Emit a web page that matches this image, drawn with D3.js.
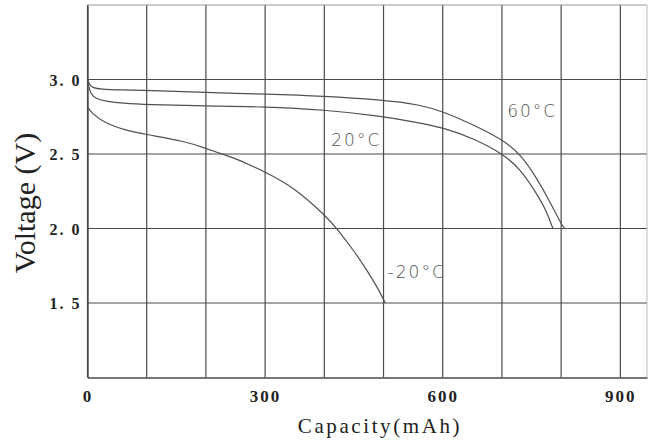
<!DOCTYPE html>
<html>
<head>
<meta charset="utf-8">
<script src="https://cdn.jsdelivr.net/npm/d3@7"></script>
<style>
    body { margin: 0; background: #fff; }
</style>
</head>
<body>
<div id="chart"></div>
<script>
//discharge curves (capacity in mAh, voltage in V)
var cap60 = [0, 4, 10, 20, 60, 100, 200, 300, 400, 494, 562, 603, 652, 702, 731, 759, 781, 801, 806];
var volt60 = [3.0, 2.96, 2.945, 2.935, 2.93, 2.927, 2.913, 2.902, 2.888, 2.864, 2.832, 2.781, 2.695, 2.594, 2.5, 2.337, 2.18, 2.023, 2.0];

var cap20 = [0, 5, 15, 30, 60, 100, 200, 300, 400, 494, 551, 603, 652, 702, 731, 759, 776, 786];
var volt20 = [2.99, 2.9, 2.87, 2.855, 2.84, 2.831, 2.822, 2.818, 2.797, 2.755, 2.716, 2.676, 2.604, 2.5, 2.4, 2.233, 2.111, 2.0];

var capM20 = [0, 7, 30, 63, 97, 165, 198, 225, 254, 274, 297, 348, 404, 421, 449, 472, 489, 503];
var voltM20 = [2.817, 2.773, 2.706, 2.661, 2.632, 2.585, 2.54, 2.503, 2.464, 2.426, 2.385, 2.28, 2.079, 2.0, 1.856, 1.72, 1.61, 1.5];

//curve labels
var curveLabels = ["60°C", "20°C", "-20°C"];
var labelCap = [751, 454, 556];
var labelVolt = [2.75, 2.554, 1.666];

//tick values and labels
var xGrid = [0, 100, 200, 300, 400, 500, 600, 700, 800, 900];
var xTicks = [0, 300, 600, 900];
var yGrid = [1.5, 2.0, 2.5, 3.0];
var yTickText = ["1. 5", "2. 0", "2. 5", "3. 0"];

//svg size
var svgWidth = 648;
var svgHeight = 443;

var svg = d3.select("#chart").append("svg")
    .attr("width", svgWidth)
    .attr("height", svgHeight);

svg.append("rect")
    .attr("width", svgWidth)
    .attr("height", svgHeight)
    .attr("fill", "#fff");

//scales
var xScale = d3.scaleLinear().domain([0, 945]).range([87.5, 647]);
var yScale = d3.scaleLinear().domain([1.0, 3.5]).range([377.5, 5]);

var gridColor = "#4a4a4a";

//vertical grid lines
svg.append("g").selectAll("line")
    .data(xGrid)
    .enter()
    .append("line")
    .attr("x1", d => xScale(d))
    .attr("x2", d => xScale(d))
    .attr("y1", yScale(3.5))
    .attr("y2", yScale(1.0))
    .attr("stroke", gridColor)
    .attr("stroke-width", 1.2);

//horizontal grid lines
svg.append("g").selectAll("line")
    .data(yGrid.concat([3.5]))
    .enter()
    .append("line")
    .attr("x1", xScale(0))
    .attr("x2", xScale(945))
    .attr("y1", d => yScale(d))
    .attr("y2", d => yScale(d))
    .attr("stroke", d => d == 3.5 ? "#999" : gridColor)
    .attr("stroke-width", 1.2);

//right border
svg.append("line")
    .attr("x1", xScale(945)).attr("x2", xScale(945))
    .attr("y1", yScale(3.5)).attr("y2", yScale(1.0))
    .attr("stroke", "#bbb")
    .attr("stroke-width", 1);

//axes
var xAxis = svg.append("g")
    .attr("transform", `translate(0, ${yScale(1.0)})`)
    .call(d3.axisBottom(xScale).tickValues(xTicks).tickSize(0).tickPadding(12));

var yAxis = svg.append("g")
    .attr("transform", `translate(${xScale(0)}, 0)`)
    .call(d3.axisLeft(yScale).tickValues(yGrid).tickSize(0).tickPadding(6)
        .tickFormat((d, i) => yTickText[i]));

svg.selectAll(".domain")
    .attr("stroke", gridColor)
    .attr("stroke-width", 1.4);

svg.selectAll(".tick text")
    .attr("font-family", "'Liberation Serif', serif")
    .attr("font-weight", "bold")
    .attr("font-size", "17px")
    .attr("letter-spacing", "2px")
    .attr("fill", "#222");

yAxis.selectAll(".tick text")
    .attr("font-size", "16px")
    .attr("dy", "0.35em");

//curves, smoothed through the read points
var line = d3.line()
    .x(d => xScale(d[0]))
    .y(d => yScale(d[1]))
    .curve(d3.curveBasis);

var series = [
    d3.zip(cap60, volt60),
    d3.zip(cap20, volt20),
    d3.zip(capM20, voltM20)
];

svg.append("g").selectAll("path")
    .data(series)
    .enter()
    .append("path")
    .attr("d", d => line(d))
    .attr("fill", "none")
    .attr("stroke", "#505050")
    .attr("stroke-width", 1.2);

//curve labels
svg.append("g").selectAll("text")
    .data(curveLabels)
    .enter()
    .append("text")
    .attr("x", (d, i) => xScale(labelCap[i]))
    .attr("y", (d, i) => yScale(labelVolt[i]))
    .attr("text-anchor", "middle")
    .attr("font-family", "'DejaVu Sans', sans-serif")
    .attr("font-weight", 200)
    .attr("font-size", "17px")
    .attr("letter-spacing", "2px")
    .attr("fill", "#555")
    .text(d => d);

//x axis title
svg.append("text")
    .attr("x", 380)
    .attr("y", 433)
    .attr("text-anchor", "middle")
    .attr("font-family", "'Liberation Serif', serif")
    .attr("font-size", "21px")
    .attr("letter-spacing", "2.6px")
    .attr("fill", "#222")
    .text("Capacity(mAh)");

//y axis title
svg.append("text")
    .attr("transform", "translate(35, 203) rotate(-90)")
    .attr("text-anchor", "middle")
    .attr("font-family", "'Liberation Serif', serif")
    .attr("font-size", "30px")
    .attr("fill", "#222")
    .text("Voltage (V)");
</script>
</body>
</html>
